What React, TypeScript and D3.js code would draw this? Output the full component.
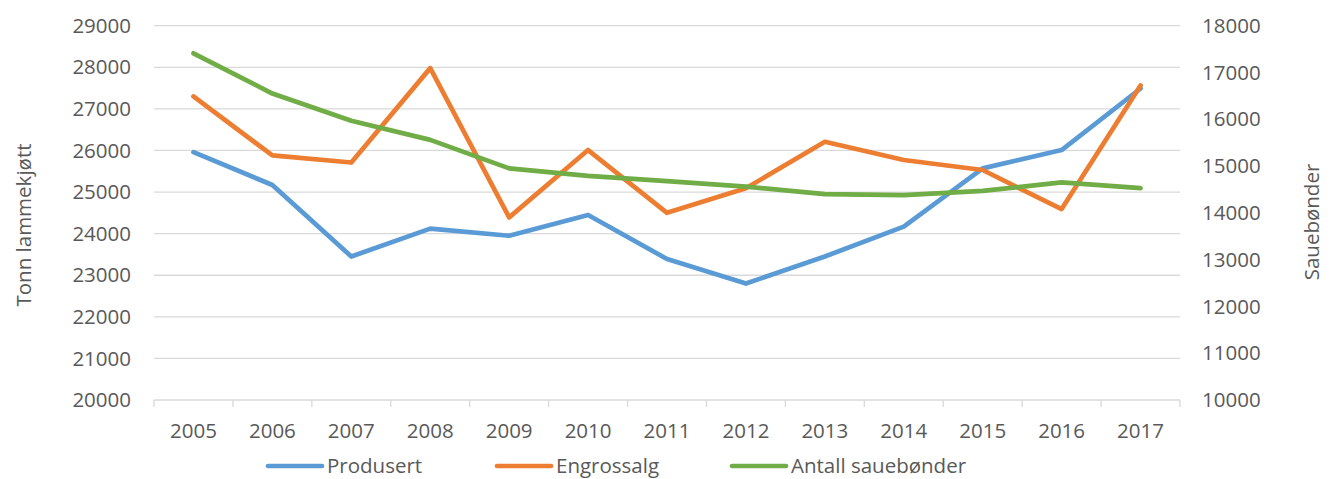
import React from "react";
import * as d3 from "d3";

const years = ["2005", "2006", "2007", "2008", "2009", "2010", "2011", "2012", "2013", "2014", "2015", "2016", "2017"];

// Tonn lammekjøtt (left axis)
const produsert = [25960, 25170, 23450, 24120, 23950, 24450, 23390, 22800, 23450, 24170, 25570, 26010, 27490];
const engrossalg = [27300, 25880, 25710, 27980, 24390, 26010, 24500, 25090, 26210, 25770, 25530, 24590, 27560];

// Sauebønder (right axis)
const saueboender = [17410, 16550, 15970, 15560, 14950, 14790, 14680, 14560, 14400, 14380, 14470, 14650, 14530];

const leftTicks = [20000, 21000, 22000, 23000, 24000, 25000, 26000, 27000, 28000, 29000];
const rightTicks = [10000, 11000, 12000, 13000, 14000, 15000, 16000, 17000, 18000];

const series = [
    { name: "Produsert", values: produsert, axis: "left", color: "#5B9BD5" },
    { name: "Engrossalg", values: engrossalg, axis: "left", color: "#ED7D31" },
    { name: "Antall sauebønder", values: saueboender, axis: "right", color: "#70AD47" },
];

const WIDTH = 1341;
const HEIGHT = 479;
const FONT = "'Open Sans', sans-serif";
const TEXT = "#595959";
const GRID = "#D9D9D9";

export default function App(): React.ReactElement {
    const plotLeft = 154;
    const plotRight = 1180;
    const plotTop = 25.7;
    const plotBottom = 400;

    const x = d3.scaleBand<string>().domain(years).range([plotLeft, plotRight]);
    const yLeft = d3.scaleLinear().domain([20000, 29000]).range([plotBottom, plotTop]);
    const yRight = d3.scaleLinear().domain([10000, 18000]).range([plotBottom, plotTop]);

    const cx = (year: string): number => (x(year) ?? 0) + x.bandwidth() / 2;

    // legend entries: line start x
    const legendX = [268, 497, 732];
    const legendY = 466;

    return (
        <svg
            width={WIDTH}
            height={HEIGHT}
            style={{ position: "absolute", left: 0, top: 0, background: "#fff" }}
            fontFamily={FONT}
        >
            {/* gridlines */}
            {leftTicks.map((t) => (
                <line key={"g" + t} x1={plotLeft} x2={plotRight} y1={yLeft(t)} y2={yLeft(t)}
                    stroke={GRID} strokeWidth={1.3} />
            ))}

            {/* category ticks */}
            {years.concat(["end"]).map((yr, i) => {
                const xp = plotLeft + i * x.step();
                return <line key={"t" + yr} x1={xp} x2={xp} y1={plotBottom} y2={plotBottom + 7}
                    stroke={GRID} strokeWidth={1.3} />;
            })}

            {/* left tick labels */}
            {leftTicks.map((t) => (
                <text key={"l" + t} x={131} y={yLeft(t)} dy="0.35em" textAnchor="end"
                    fontSize={20.5} fill={TEXT}>{t}</text>
            ))}

            {/* right tick labels */}
            {rightTicks.map((t) => (
                <text key={"r" + t} x={1202} y={yRight(t)} dy="0.35em" textAnchor="start"
                    fontSize={20.5} fill={TEXT}>{t}</text>
            ))}

            {/* x labels */}
            {years.map((yr) => (
                <text key={"x" + yr} x={cx(yr)} y={431} dy="0.35em" textAnchor="middle"
                    fontSize={20.5} fill={TEXT}>{yr}</text>
            ))}

            {/* axis titles */}
            <text transform="translate(31,225) rotate(-90)" textAnchor="middle" fontSize={20.5} fill={TEXT}>
                Tonn lammekjøtt
            </text>
            <text transform="translate(1319,222) rotate(-90)" textAnchor="middle" fontSize={20.5} fill={TEXT}>
                Sauebønder
            </text>

            {/* series lines */}
            {series.map((s) => {
                const yScale = s.axis === "left" ? yLeft : yRight;
                const line = d3.line<number>()
                    .x((_, i) => cx(years[i]))
                    .y((v) => yScale(v));
                return (
                    <path key={s.name} d={line(s.values) ?? ""} fill="none" stroke={s.color}
                        strokeWidth={4.7} strokeLinejoin="round" strokeLinecap="round" />
                );
            })}

            {/* legend */}
            {series.map((s, i) => (
                <g key={"leg" + s.name}>
                    <line x1={legendX[i]} x2={legendX[i] + 54} y1={legendY} y2={legendY} stroke={s.color}
                        strokeWidth={4.7} strokeLinecap="round" />
                    <text x={legendX[i] + 59} y={legendY} dy="0.35em" fontSize={20.5} fill={TEXT}>{s.name}</text>
                </g>
            ))}
        </svg>
    );
}
